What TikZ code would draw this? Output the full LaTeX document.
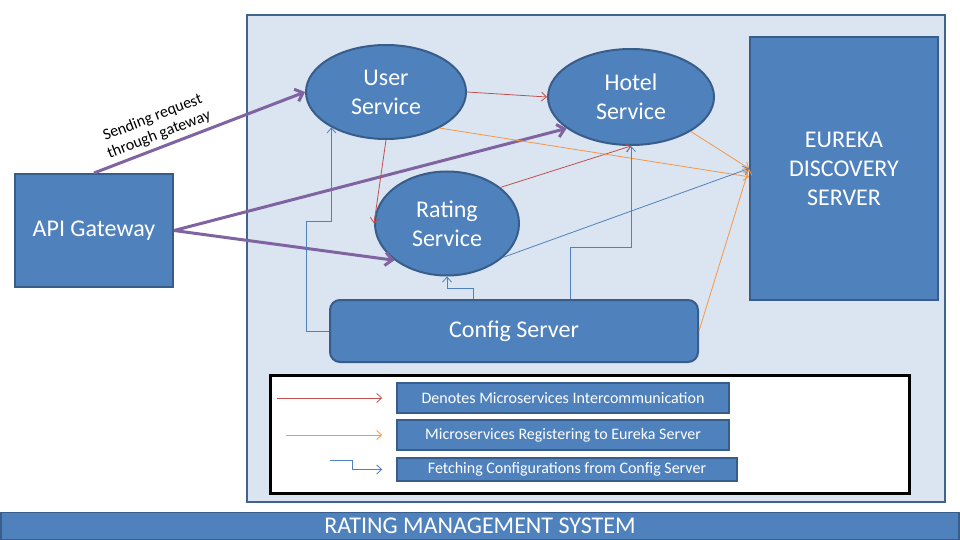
\documentclass[tikz,border=0pt]{standalone}
\usepackage{fontspec}
\setmainfont{Carlito}
\usetikzlibrary{shapes.geometric,arrows.meta}
\definecolor{panelfill}{HTML}{DBE5F1}
\definecolor{panelline}{HTML}{41648F}
\definecolor{boxfill}{HTML}{4F81BD}
\definecolor{boxline}{HTML}{385D8A}
\definecolor{redline}{HTML}{C0504D}
\definecolor{orangeline}{HTML}{F79646}
\definecolor{blueline}{HTML}{4F81BD}
\definecolor{purpleline}{HTML}{8064A2}
\tikzset{
  bigtext/.style={font=\fontsize{24}{29}\selectfont, text=white, align=center},
  svc/.style={ellipse, draw=boxline, line width=2pt, fill=boxfill, inner sep=0pt, bigtext},
  rectbox/.style={rectangle, draw=boxline, line width=2pt, fill=boxfill, inner sep=0pt, bigtext},
  legbox/.style={rectangle, draw=boxline, line width=1.5pt, fill=boxfill, text=white,
    font=\fontsize{16}{19}\selectfont, inner sep=0pt},
  thinarrow/.style={line width=0.8pt, -{Straight Barb[length=5pt,width=9pt]}},
  gwarrow/.style={purpleline, line width=3pt, -{Straight Barb[length=7pt,width=13pt]}},
}
\begin{document}
\begin{tikzpicture}[x=1pt,y=-1pt]
\useasboundingbox (0,0) rectangle (960,540);
\fill[white] (0,0) rectangle (960,540);
% main panel
\node[rectangle, draw=panelline, line width=2.5pt, fill=panelfill, minimum width=698pt, minimum height=487pt, inner sep=0pt] (panel) at (596,258.5) {};
% bottom bar
\node[rectangle, draw=boxline, line width=1.5pt, fill=boxfill, minimum width=958pt, minimum height=27pt, inner sep=0pt, text=white, font=\fontsize{24}{26}\selectfont] (bar) at (480,526) {RATING MANAGEMENT SYSTEM};
% legend frame
\node[rectangle, draw=black, line width=3pt, fill=white, minimum width=639pt, minimum height=118pt, inner sep=0pt] (legend) at (589.5,434) {};
% nodes
\node[rectbox, minimum width=158pt, minimum height=113pt] (api) at (94,230.5) {API Gateway};
\node[svc, minimum width=160pt, minimum height=94pt] (user) at (386,92) {User\\Service};
\node[svc, minimum width=166pt, minimum height=96pt] (hotel) at (631,97) {Hotel\\Service};
\node[svc, minimum width=144pt, minimum height=104pt] (rating) at (447,223.5) {Rating\\Service};
\node[rectbox, minimum width=188pt, minimum height=263pt] (eureka) at (844,168.5) {EUREKA\\DISCOVERY\\SERVER};
\node[rectbox, rounded corners=10pt, minimum width=368pt, minimum height=62pt] (config) at (514,331) {Config Server};
% legend boxes
\node[legbox, minimum width=332pt, minimum height=30pt] (lbox1) at (563,398) {Denotes Microservices Intercommunication};
\node[legbox, minimum width=332pt, minimum height=30pt] (lbox2) at (563,435) {Microservices Registering to Eureka Server};
\node[legbox, minimum width=340pt, minimum height=23pt] (lbox3) at (567,469.5) {Fetching Configurations from Config Server};
% gateway arrows
\draw[gwarrow] (api.north) -- node[pos=0.33, sloped, above, inner sep=4pt, text=black, align=center, font=\fontsize{16}{18}\selectfont] (gwlabel) {Sending request\\through gateway} (user.west);
\draw[gwarrow] (api.east) -- (hotel.206);
\draw[gwarrow] (api.east) -- (rating.215);
% intercommunication
\draw[thinarrow, redline] (user.east) -- (hotel.west);
\draw[thinarrow, redline] (user.south) -- (rating.west);
\draw[thinarrow, redline] (rating.34) -- (hotel.south);
% registering
\draw[thinarrow, orangeline] (user.-34) -- (eureka.-175);
\draw[thinarrow, orangeline] (hotel.-30) -- (eureka.west);
\draw[thinarrow, orangeline] (config.east) -- (eureka.west);
% config fetching
\coordinate (b1) at (306,221);
\coordinate (b2) at (473,288);
\coordinate (b3) at (570,247);
\draw[thinarrow, blueline] (config.west) -| (b1) -| (user.213);
\draw[thinarrow, blueline] (b2 |- config.north) -- (b2) -| (rating.south);
\draw[thinarrow, blueline] (b3 |- config.north) -- (b3) -| (hotel.south);
\draw[thinarrow, blueline] (rating.-31) -- (eureka.west);
% legend arrows
\coordinate (lr1) at (277,398);
\coordinate (lr2) at (286,435);
\coordinate (lr3) at (330,460);
\draw[thinarrow, redline] (lr1) -- ([xshift=-14pt]lbox1.west);
\draw[thinarrow, orangeline] (lr2) -- ([xshift=-14pt]lbox2.west);
\draw[thinarrow, blueline] (lr3) -- ++(22,0) |- ([xshift=-14pt]lbox3.west);
\end{tikzpicture}
\end{document}
